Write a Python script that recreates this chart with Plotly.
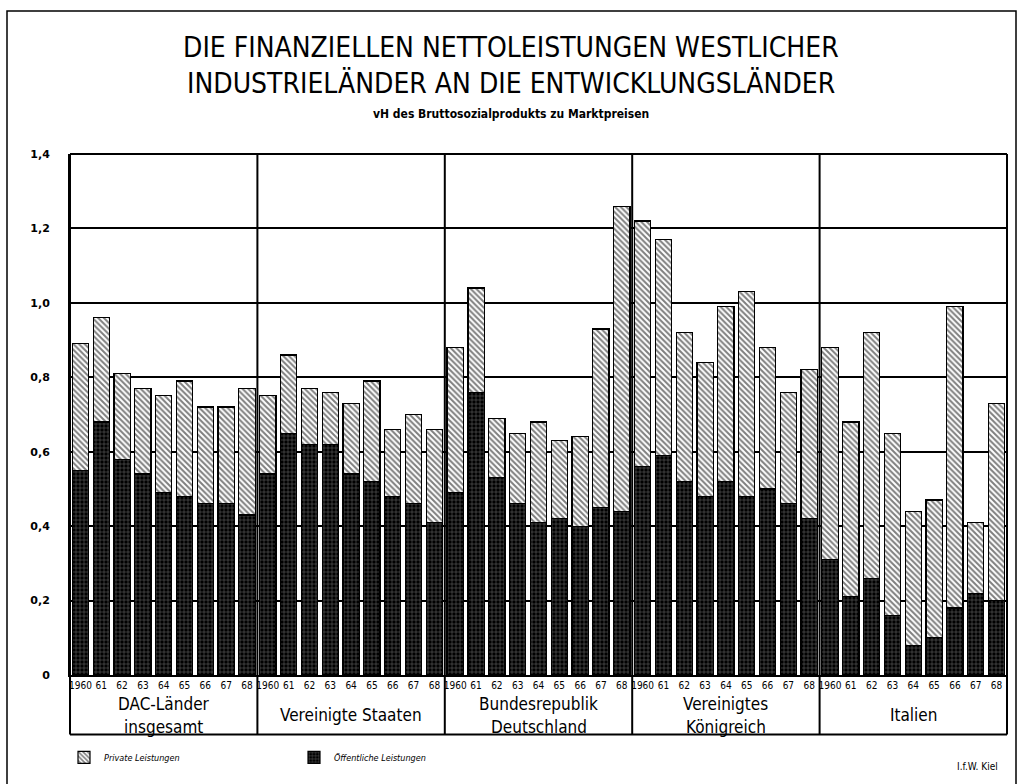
import plotly.graph_objects as go

# Net financial flows to developing countries, % of GNP at market prices
laender = [["DAC-Länder", "insgesamt"], ["Vereinigte Staaten"], ["Bundesrepublik", "Deutschland"],
           ["Vereinigtes", "Königreich"], ["Italien"]]
jahre = ["1960", "61", "62", "63", "64", "65", "66", "67", "68"]

# total flows (private + official), per country, 1960-1968
gesamt_dac = [0.89, 0.96, 0.81, 0.77, 0.75, 0.79, 0.72, 0.72, 0.77]
gesamt_usa = [0.75, 0.86, 0.77, 0.76, 0.73, 0.79, 0.66, 0.70, 0.66]
gesamt_brd = [0.88, 1.04, 0.69, 0.65, 0.68, 0.63, 0.64, 0.93, 1.26]
gesamt_uk = [1.22, 1.17, 0.92, 0.84, 0.99, 1.03, 0.88, 0.76, 0.82]
gesamt_ita = [0.88, 0.68, 0.92, 0.65, 0.44, 0.47, 0.99, 0.41, 0.73]

# official flows
oeff_dac = [0.55, 0.68, 0.58, 0.54, 0.49, 0.48, 0.46, 0.46, 0.43]
oeff_usa = [0.54, 0.65, 0.62, 0.62, 0.54, 0.52, 0.48, 0.46, 0.41]
oeff_brd = [0.49, 0.76, 0.53, 0.46, 0.41, 0.42, 0.40, 0.45, 0.44]
oeff_uk = [0.56, 0.59, 0.52, 0.48, 0.52, 0.48, 0.50, 0.46, 0.42]
oeff_ita = [0.31, 0.21, 0.26, 0.16, 0.08, 0.10, 0.18, 0.22, 0.20]

y_ticks = [0, 0.2, 0.4, 0.6, 0.8, 1.0, 1.2, 1.4]
y_ticktext = ["0", "0,2", "0,4", "0,6", "0,8", "1,0", "1,2", "1,4"]

gesamt = gesamt_dac + gesamt_usa + gesamt_brd + gesamt_uk + gesamt_ita
oeffentlich = oeff_dac + oeff_usa + oeff_brd + oeff_uk + oeff_ita
privat = [round(g - o, 3) for g, o in zip(gesamt, oeffentlich)]

n_j = len(jahre)
n_l = len(laender)
x = list(range(n_j * n_l))
ticktext = jahre * n_l

# page geometry (pixels) for the plot area
W, H = 1023, 784
L, R, T, B = 70, 1007, 154, 679


def px(xp):
    return (xp - L) / (R - L)


def py(yp):
    return (B - yp) / (B - T)


FONT = "DejaVu Sans Condensed"

fig = go.Figure()
fig.add_trace(go.Bar(
    x=x, y=oeffentlich, name="Öffentliche Leistungen", width=0.78, legendrank=2,
    marker=dict(color="black", line=dict(color="black", width=1.2),
                pattern=dict(shape="+", fgcolor="#d0d0d0", bgcolor="black",
                             size=4, solidity=0.25)),
))
fig.add_trace(go.Bar(
    x=x, y=privat, name="Private Leistungen", width=0.78, legendrank=1,
    marker=dict(color="white", line=dict(color="black", width=1.2),
                pattern=dict(shape="\\", fgcolor="black", bgcolor="white",
                             size=4, solidity=0.5)),
))

shapes = []
# panel dividers running down through the label box
for i in range(n_l + 1):
    xp = L + (R - L) * i / n_l
    shapes.append(dict(type="line", xref="paper", yref="paper",
                       x0=px(xp), x1=px(xp), y0=py(739), y1=1,
                       line=dict(color="black", width=2)))
# bottom of the label box
shapes.append(dict(type="line", xref="paper", yref="paper",
                   x0=0, x1=1, y0=py(739), y1=py(739),
                   line=dict(color="black", width=2)))
# top border of the plot
shapes.append(dict(type="line", xref="paper", yref="paper",
                   x0=0, x1=1, y0=1, y1=1, line=dict(color="black", width=2)))
# outer frame of the page
shapes.append(dict(type="rect", xref="paper", yref="paper",
                   x0=px(7), x1=px(1016), y0=py(800), y1=py(10),
                   line=dict(color="black", width=1.5)))

annotations = []
# title lines and subtitle
for txt, yp in [("DIE FINANZIELLEN NETTOLEISTUNGEN WESTLICHER", 47),
                ("INDUSTRIELÄNDER AN DIE ENTWICKLUNGSLÄNDER", 83)]:
    annotations.append(dict(xref="paper", yref="paper", x=px(511), y=py(yp),
                            text=txt, showarrow=False, borderpad=0,
                            font=dict(family=FONT, size=28, color="black"),
                            xanchor="center", yanchor="middle"))
annotations.append(dict(xref="paper", yref="paper", x=px(511), y=py(114),
                        text="<b>vH des Bruttosozialprodukts zu Marktpreisen</b>",
                        showarrow=False,
                        font=dict(family=FONT, size=12, color="black"),
                        xanchor="center", yanchor="middle"))

# country names in the label box, one annotation per line
for i, lines in enumerate(laender):
    xc = L + (R - L) * (i + 0.5) / n_l
    ys = [719] if len(lines) == 1 else [708, 731]
    for line, yp in zip(lines, ys):
        annotations.append(dict(xref="paper", yref="paper", x=px(xc), y=py(yp),
                                text=line, showarrow=False, borderpad=0,
                                font=dict(family=FONT, size=17, color="black"),
                                xanchor="center", yanchor="middle"))

annotations.append(dict(xref="paper", yref="paper", x=px(1000), y=py(771),
                        text="I.f.W. Kiel", showarrow=False,
                        font=dict(family=FONT, size=10, color="black"),
                        xanchor="right", yanchor="middle"))

fig.update_layout(
    width=W, height=H,
    margin=dict(l=L, r=W - R, t=T, b=H - B),
    paper_bgcolor="white", plot_bgcolor="white",
    barmode="stack", bargap=0.2,
    showlegend=True,
    legend=dict(orientation="h", x=px(64), y=py(762), xanchor="left", yanchor="middle",
                traceorder="normal",
                entrywidth=185, entrywidthmode="pixels",
                font=dict(family=FONT, size=9, color="black", style="italic"),
                bgcolor="rgba(0,0,0,0)", itemclick=False, itemdoubleclick=False),
    xaxis=dict(range=[-0.5, n_j * n_l - 0.5], tickmode="array", tickvals=x,
               ticktext=ticktext, tickangle=0, showgrid=False,
               tickfont=dict(family=FONT, size=10, color="black"),
               showline=True, linecolor="black", linewidth=2,
               ticks="", zeroline=False, fixedrange=True),
    yaxis=dict(range=[0, 1.4], tickmode="array", tickvals=y_ticks, ticktext=y_ticktext,
               showgrid=True, gridcolor="black", gridwidth=1.5,
               tickfont=dict(family="DejaVu Sans", size=11, color="black", weight="bold"),
               showline=True, linecolor="black", linewidth=2, zeroline=False,
               ticks="", ticklabelstandoff=16, fixedrange=True),
    shapes=shapes, annotations=annotations,
)

fig.write_html("out.html")
